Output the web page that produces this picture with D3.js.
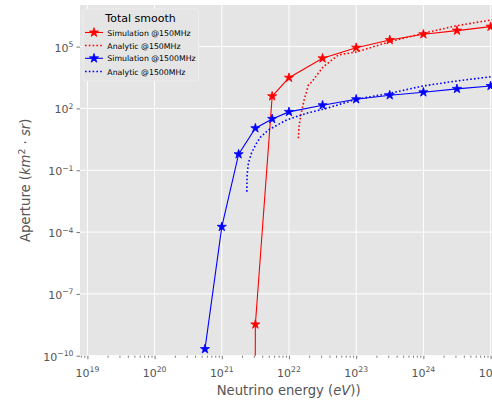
<!DOCTYPE html>
<html>
<head>
<meta charset="utf-8">
<script src="https://cdn.jsdelivr.net/npm/d3@7/dist/d3.min.js"></script>
<style>
    body { margin: 0; background: #ffffff; }
    text { font-family: "DejaVu Sans", sans-serif; }
</style>
</head>
<body>
<div id="chart"></div>
<script>
//Simulated aperture, 150 MHz (first point is zero aperture, clipped like matplotlib does)
const simEnergy150 = [1.78e21, 3.16e21, 5.62e21, 1e22, 3.16e22, 1e23, 3.16e23, 1e24, 3.16e24, 1e25];
const simAperture150 = [1e-300, 3.3e-9, 390, 3100, 2.7e4, 8.9e4, 2.1e5, 4e5, 6e5, 9.3e5];

//Analytic aperture, 150 MHz
const anaEnergy150 = [1.38e22, 1.41e22, 1.50e22, 1.68e22, 1.95e22, 2.18e22, 3.25e22, 5.43e22, 1.02e23, 3.19e23, 1e24, 3.14e24, 1.05e25];
const anaAperture150 = [3.57, 13.1, 48.3, 259, 1380, 1930, 1.07e4, 3.95e4, 5.53e4, 1.75e5, 4.47e5, 1.04e6, 1.98e6];

//Simulated aperture, 1500 MHz
const simEnergy1500 = [5.62e20, 1e21, 1.78e21, 3.16e21, 5.62e21, 1e22, 3.16e22, 1e23, 3.16e23, 1e24, 3.16e24, 1e25];
const simAperture1500 = [2.1e-10, 1.8e-4, 0.6, 11, 31, 68, 143, 280, 440, 610, 890, 1230];

//Analytic aperture, 1500 MHz
const anaEnergy1500 = [2.36e21, 2.38e21, 2.49e21, 2.77e21, 3.24e21, 3.72e21, 4.93e21, 9.27e21, 1.84e22, 3.65e22, 1.02e23, 3.19e23, 1e24, 3.14e24, 1.05e25];
const anaAperture1500 = [9.1e-3, 0.059, 0.226, 0.692, 1.89, 3.91, 9.04, 27.7, 58.5, 102, 280, 547, 1240, 2160, 3500];

//Ticks
const xTicks = [1e19, 1e20, 1e21, 1e22, 1e23, 1e24, 1e25];
const yTicks = [1e-10, 1e-7, 1e-4, 1e-1, 1e2, 1e5];

const legendTitle = "Total smooth";
const seriesNames = ["Simulation @150MHz", "Analytic @150MHz", "Simulation @1500MHz", "Analytic @1500MHz"];

function drawChart() {
    const width = 492, height = 405;
    //Plot area (right edge runs a little past the window, as in the picture)
    const plot = {left: 80, right: 497.3, top: 5, bottom: 355.7};

    const svg = d3.select("#chart").append("svg")
        .attr("width", width)
        .attr("height", height);

    const xScale = d3.scaleLog()
        .domain([Math.pow(10, 18.89), Math.pow(10, 25.1)])
        .range([plot.left, plot.right]);
    const yScale = d3.scaleLog()
        .domain([1e-10, Math.pow(10, 7.02)])
        .range([plot.bottom, plot.top]);

    //Background
    svg.append("rect")
        .attr("x", plot.left)
        .attr("y", plot.top)
        .attr("width", plot.right - plot.left)
        .attr("height", plot.bottom - plot.top)
        .attr("fill", "#e5e5e5");

    svg.append("clipPath")
        .attr("id", "plot-clip")
        .append("rect")
        .attr("x", plot.left)
        .attr("y", plot.top)
        .attr("width", plot.right - plot.left)
        .attr("height", plot.bottom - plot.top);

    //Grid
    svg.append("g").selectAll("line")
        .data(xTicks)
        .enter().append("line")
        .attr("x1", d => xScale(d))
        .attr("x2", d => xScale(d))
        .attr("y1", plot.top)
        .attr("y2", plot.bottom)
        .attr("stroke", "#ffffff")
        .attr("stroke-width", 1);
    svg.append("g").selectAll("line")
        .data(yTicks)
        .enter().append("line")
        .attr("x1", plot.left)
        .attr("x2", plot.right)
        .attr("y1", d => yScale(d))
        .attr("y2", d => yScale(d))
        .attr("stroke", "#ffffff")
        .attr("stroke-width", 1);

    //Minor x ticks
    let minorTicks = [];
    [18, 19, 20, 21, 22, 23, 24, 25].forEach(function (p) {
        for (let m = 2; m < 10; m++) minorTicks.push(m * Math.pow(10, p));
    });
    minorTicks = minorTicks.filter(d => xScale(d) >= plot.left && xScale(d) <= plot.right);

    const xAxis = svg.append("g")
        .attr("transform", "translate(0," + plot.bottom + ")")
        .call(d3.axisBottom(xScale).tickValues(minorTicks).tickSize(2).tickFormat(""));
    xAxis.append("g")
        .call(d3.axisBottom(xScale).tickValues(xTicks).tickSize(3.5).tickFormat(""));
    xAxis.selectAll(".domain").remove();
    xAxis.selectAll("line").attr("stroke", "#555555").attr("stroke-width", 0.8);

    const yAxis = svg.append("g")
        .attr("transform", "translate(" + plot.left + ",0)")
        .call(d3.axisLeft(yScale).tickValues(yTicks).tickSize(3.5).tickFormat(""));
    yAxis.selectAll(".domain").remove();
    yAxis.selectAll("line").attr("stroke", "#555555").attr("stroke-width", 0.8);

    //Power-of-ten labels
    function powerLabel(sel, d) {
        let e = Math.round(Math.log10(d)).toString().replace("-", "\u2212");
        sel.append("tspan").text("10");
        sel.append("tspan")
            .attr("font-size", "7.7px")
            .attr("dy", -4.4)
            .text(e);
    }
    svg.append("g").selectAll("text")
        .data(xTicks)
        .enter().append("text")
        .attr("x", d => xScale(d))
        .attr("y", plot.bottom + 21)
        .attr("text-anchor", "middle")
        .attr("font-size", "11px")
        .attr("fill", "#555555")
        .each(function (d) { powerLabel(d3.select(this), d); });
    svg.append("g").selectAll("text")
        .data(yTicks)
        .enter().append("text")
        .attr("x", plot.left - 6.5)
        .attr("y", d => yScale(d) + 5)
        .attr("text-anchor", "end")
        .attr("font-size", "11px")
        .attr("fill", "#555555")
        .each(function (d) { powerLabel(d3.select(this), d); });

    //Axis titles
    const xLabel = svg.append("text")
        .attr("x", (plot.left + plot.right) / 2)
        .attr("y", 395)
        .attr("text-anchor", "middle")
        .attr("font-size", "13.2px")
        .attr("fill", "#555555");
    xLabel.append("tspan").text("Neutrino energy (");
    xLabel.append("tspan").attr("font-style", "italic").text("eV");
    xLabel.append("tspan").text("))");

    const yLabel = svg.append("text")
        .attr("transform", "translate(30," + (plot.top + plot.bottom) / 2 + ") rotate(-90)")
        .attr("text-anchor", "middle")
        .attr("font-size", "13.2px")
        .attr("fill", "#555555");
    yLabel.append("tspan").text("Aperture (");
    yLabel.append("tspan").attr("font-style", "italic").text("km");
    yLabel.append("tspan").attr("font-size", "9.2px").attr("dy", -5).text("2");
    yLabel.append("tspan").attr("dy", 5).text(" \u00b7 ");
    yLabel.append("tspan").attr("font-style", "italic").text("sr");
    yLabel.append("tspan").text(")");

    //Series
    const series = [
        {x: simEnergy150, y: simAperture150, color: "#ff0000", dotted: false},
        {x: anaEnergy150, y: anaAperture150, color: "#ff0000", dotted: true},
        {x: simEnergy1500, y: simAperture1500, color: "#0000ff", dotted: false},
        {x: anaEnergy1500, y: anaAperture1500, color: "#0000ff", dotted: true}
    ];
    const line = d3.line()
        .x(d => xScale(d[0]))
        .y(d => yScale(d[1]));
    const star = d3.symbol().type(d3.symbolStar).size(26);

    const plotG = svg.append("g").attr("clip-path", "url(#plot-clip)");
    series.forEach(function (s) {
        let pts = s.x.map((v, i) => [v, s.y[i]]);
        plotG.append("path")
            .datum(pts)
            .attr("d", line)
            .attr("fill", "none")
            .attr("stroke", s.color)
            .attr("stroke-width", s.dotted ? 1.6 : 1.1)
            .attr("stroke-dasharray", s.dotted ? "1.6,2.2" : null);
        if (!s.dotted) {
            plotG.selectAll(null)
                .data(pts)
                .enter().append("path")
                .attr("d", star)
                .attr("transform", d => "translate(" + xScale(d[0]) + "," + yScale(d[1]) + ")")
                .attr("fill", s.color)
                .attr("stroke", s.color)
                .attr("stroke-width", 0.8);
        }
    });

    //Legend
    const legend = svg.append("g");
    legend.append("rect")
        .attr("x", 83)
        .attr("y", 9)
        .attr("width", 115.5)
        .attr("height", 72)
        .attr("rx", 2)
        .attr("fill", "#e5e5e5")
        .attr("stroke", "#f0f0f0")
        .attr("stroke-width", 0.8);
    legend.append("text")
        .attr("x", 140.5)
        .attr("y", 21.7)
        .attr("text-anchor", "middle")
        .attr("font-size", "11px")
        .attr("fill", "#000000")
        .text(legendTitle);
    const entryY = [32.5, 45.5, 58.3, 71.5];
    seriesNames.forEach(function (name, i) {
        let s = series[i];
        legend.append("line")
            .attr("x1", 85)
            .attr("x2", 103)
            .attr("y1", entryY[i])
            .attr("y2", entryY[i])
            .attr("stroke", s.color)
            .attr("stroke-width", s.dotted ? 1.6 : 1.1)
            .attr("stroke-dasharray", s.dotted ? "1.6,2.2" : null);
        if (!s.dotted) {
            legend.append("path")
                .attr("d", star)
                .attr("transform", "translate(94," + entryY[i] + ")")
                .attr("fill", s.color)
                .attr("stroke", s.color)
                .attr("stroke-width", 0.8);
        }
        legend.append("text")
            .attr("x", 107.3)
            .attr("y", entryY[i] + 3)
            .attr("font-size", "7.8px")
            .attr("fill", "#000000")
            .text(name);
    });
}

drawChart();
</script>
</body>
</html>
